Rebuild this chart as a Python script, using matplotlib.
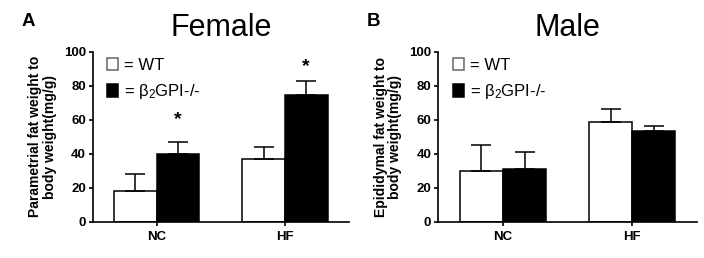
import numpy as np
import matplotlib
matplotlib.use("Agg")
import matplotlib.pyplot as plt

plt.rcParams['font.family'] = ['Liberation Sans', 'DejaVu Sans']
plt.rcParams['mathtext.fontset'] = 'custom'
plt.rcParams['mathtext.rm'] = 'Liberation Sans'
plt.rcParams['mathtext.it'] = 'Liberation Sans'

groups = ["NC", "HF"]
labels = ["= WT", "= β$_2$GPI-/-"]

female_wt = [18.2, 36.9]
female_wt_err = [9.8, 7.1]
female_ko = [39.8, 74.7]
female_ko_err = [7.2, 8.1]
female_stars = [60, 91]

male_wt = [30.0, 58.8]
male_wt_err = [15.0, 7.5]
male_ko = [30.8, 53.5]
male_ko_err = [10.0, 2.8]

fig = plt.figure(figsize=(7.04, 2.58), dpi=100)
axA = fig.add_axes([0.1317, 0.1407, 0.364, 0.659])
axB = fig.add_axes([0.6226, 0.1407, 0.3675, 0.659])

centers = np.array([1.5, 4.5])


def draw_panel(ax, wt, wt_err, ko, ko_err, title, letter, ylabel, stars=None):
    ekw = dict(elinewidth=1.1, capthick=1.1, ecolor='black')
    b1 = ax.bar(centers - 0.5, wt, width=1.0, color='white', edgecolor='black',
                linewidth=1.1, yerr=[[0, 0], wt_err], capsize=7, error_kw=ekw, zorder=2)
    b2 = ax.bar(centers + 0.5, ko, width=1.0, color='black', edgecolor='black',
                linewidth=1.1, yerr=[[0, 0], ko_err], capsize=7, error_kw=ekw, zorder=2)
    if stars is not None:
        for x, s in zip(centers + 0.5, stars):
            ax.text(x, s, "*", ha='center', va='center', fontsize=14, fontweight='bold')
    ax.set_xlim(0, 6)
    ax.set_ylim(0, 100)
    ax.set_yticks([0, 20, 40, 60, 80, 100])
    ax.set_xticks(centers)
    ax.set_xticklabels(groups)
    for s in ['top', 'right']:
        ax.spines[s].set_visible(False)
    for s in ['left', 'bottom']:
        ax.spines[s].set_linewidth(1.2)
    ax.tick_params(direction='out', length=3, width=1.2, labelsize=9.5, pad=2)
    ax.tick_params(axis='x', labelsize=9.5, pad=4)
    for t in ax.get_xticklabels() + ax.get_yticklabels():
        t.set_fontweight('bold')
    ax.set_ylabel(ylabel, fontsize=10, fontweight='bold', labelpad=5, linespacing=1.05)
    ax.set_title(title, fontsize=22, pad=11)
    ax.text(-0.276, 1.18, letter, transform=ax.transAxes, fontsize=13.5,
            fontweight='bold', ha='left', va='center')
    leg = ax.legend([b1.patches[0], b2.patches[0]], labels, loc='upper left',
                    bbox_to_anchor=(0.055, 0.965), frameon=False, fontsize=12,
                    handlelength=0.7, handleheight=0.8, handletextpad=0.35,
                    labelspacing=0.55, borderpad=0.0, borderaxespad=0.0)
    leg.legend_handles[0].set_edgecolor('#666666')
    return ax


draw_panel(axA, female_wt, female_wt_err, female_ko, female_ko_err, "Female", "A",
           "Parametrial fat weight to\nbody weight(mg/g)", stars=female_stars)
draw_panel(axB, male_wt, male_wt_err, male_ko, male_ko_err, "Male", "B",
           "Epididymal fat weight to\nbody weight(mg/g)")

fig.savefig("out.png", dpi=100)
